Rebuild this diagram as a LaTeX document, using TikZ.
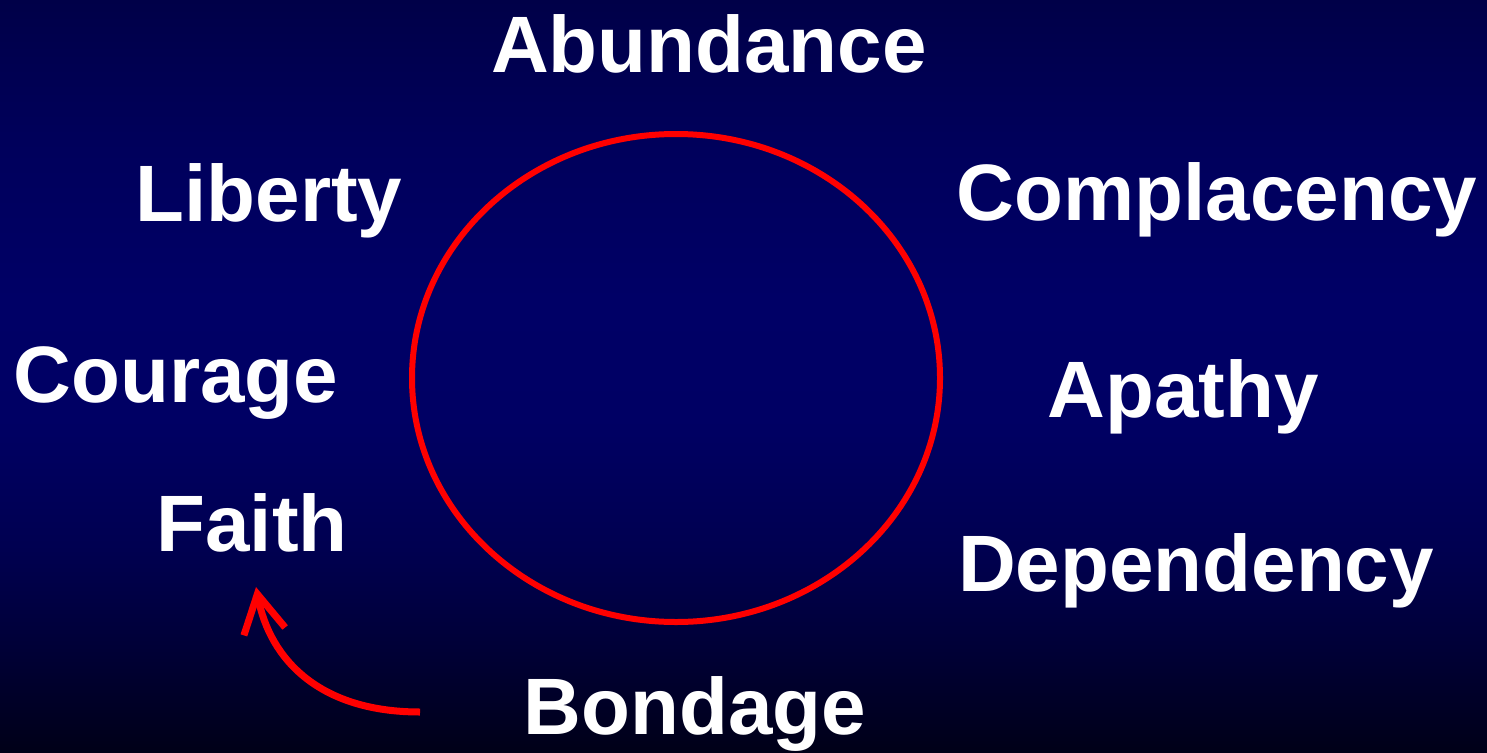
\documentclass[tikz,border=0pt]{standalone}
\usepackage{fontspec}
\setmainfont{Liberation Sans}
\usetikzlibrary{arrows.meta}
\definecolor{bgA}{RGB}{0,0,72}
\definecolor{bgB}{RGB}{0,0,92}
\definecolor{bgC}{RGB}{0,0,102}
\definecolor{bgD}{RGB}{0,0,100}
\definecolor{bgE}{RGB}{0,0,80}
\definecolor{bgF}{RGB}{0,0,54}
\definecolor{bgG}{RGB}{0,0,24}
\definecolor{cyclered}{RGB}{255,0,0}
\tikzset{
  word/.style={text=white, font=\bfseries\fontsize{80}{96}\selectfont, anchor=base, inner sep=0pt},
  ring/.style={draw=cyclered, line width=6pt},
  turn/.style={draw=cyclered, line width=7pt, -{Straight Barb[length=38pt,width=42pt,line width=7pt]}},
  band/.style={shading=axis, draw=none}
}
\begin{document}
\begin{tikzpicture}[x=1pt,y=-1pt]
\useasboundingbox (0,0) rectangle (1487,752);
\shade[band, top color=bgA, bottom color=bgB] (0,0) rectangle (1487,150.5);
\shade[band, top color=bgB, bottom color=bgC] (0,150) rectangle (1487,300.5);
\shade[band, top color=bgC, bottom color=bgD] (0,300) rectangle (1487,420.5);
\shade[band, top color=bgD, bottom color=bgE] (0,420) rectangle (1487,550.5);
\shade[band, top color=bgE, bottom color=bgF] (0,550) rectangle (1487,650.5);
\shade[band, top color=bgF, bottom color=bgG] (0,650) rectangle (1487,752);
\draw[ring] (676,378) ellipse [x radius=264, y radius=244];
\node[word] (abundance) at (709,73) {Abundance};
\node[word] (liberty) at (269,221) {Liberty};
\node[word] (complacency) at (1217,220) {Complacency};
\node[word] (courage) at (176,402) {Courage};
\node[word] (apathy) at (1183,417) {Apathy};
\node[word] (faith) at (252,551) {Faith};
\node[word] (dependency) at (1196,591) {Dependency};
\node[word] (bondage) at (695,734) {Bondage};
\coordinate (from) at (420,712);
\coordinate (to) at (256,587);
\draw[turn] (from) .. controls (320,712) and (270,660) .. (to);
\end{tikzpicture}
\end{document}
